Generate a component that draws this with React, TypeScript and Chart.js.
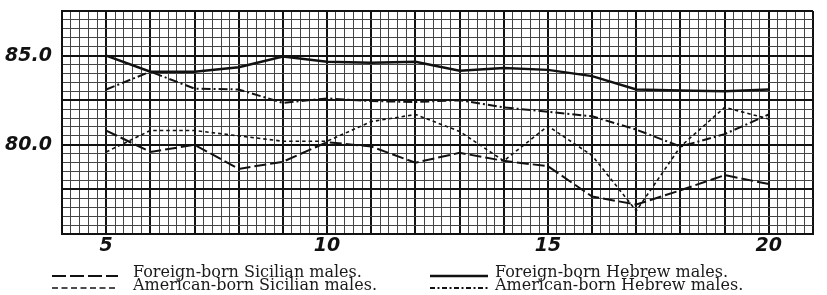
import React, { useEffect, useRef } from 'react';
import { Chart, registerables } from 'chart.js';

Chart.register(...registerables);

// Age in years
const ages = [5, 6, 7, 8, 9, 10, 11, 12, 13, 14, 15, 16, 17, 18, 19, 20];

// Cephalic index values
const foreignSicilian = [80.8, 79.6, 80.0, 78.65, 79.05, 80.15, 79.9, 79.0, 79.55, 79.1, 78.8, 77.1, 76.65, 77.45, 78.3, 77.8];
const americanSicilian = [79.6, 80.8, 80.8, 80.5, 80.2, 80.2, 81.3, 81.7, 80.75, 79.1, 81.05, 79.4, 76.3, 79.9, 82.1, 81.45];
const foreignHebrew = [85.0, 84.1, 84.1, 84.35, 84.95, 84.65, 84.6, 84.65, 84.15, 84.3, 84.2, 83.85, 83.1, 83.05, 83.0, 83.1];
const americanHebrew = [83.1, 84.1, 83.15, 83.1, 82.35, 82.6, 82.45, 82.4, 82.5, 82.1, 81.85, 81.6, 80.85, 79.9, 80.6, 81.7];

const seriesLabels = [
  'Foreign-born Sicilian males.',
  'American-born Sicilian males.',
  'Foreign-born Hebrew males.',
  'American-born Hebrew males.',
];

const xTickLabels = [5, 10, 15, 20];
const yTickLabels = [80, 85];

const near = (a: number, b: number) => Math.abs(a - b) < 1e-6;

const legendPlugin = {
  id: 'paperLegend',
  afterDraw(chart: any) {
    const ctx = chart.ctx as CanvasRenderingContext2D;
    const cols = [
      { sx: 52, ex: 118, tx: 133 },
      { sx: 430, ex: 488, tx: 495 },
    ];
    const rows = [
      { ly: 276, ty: 277 },
      { ly: 288, ty: 290 },
    ];
    chart.data.datasets.forEach((ds: any, i: number) => {
      const c = cols[i < 2 ? 0 : 1];
      const r = rows[i % 2];
      ctx.save();
      ctx.strokeStyle = ds.borderColor;
      ctx.lineWidth = ds.borderWidth;
      ctx.setLineDash(ds.legendDash || ds.borderDash || []);
      ctx.beginPath();
      ctx.moveTo(c.sx, r.ly);
      ctx.lineTo(c.ex, r.ly);
      ctx.stroke();
      ctx.setLineDash([]);
      ctx.fillStyle = '#1a1a1a';
      ctx.font = '16px "DejaVu Serif"';
      ctx.textBaseline = 'alphabetic';
      ctx.textAlign = 'left';
      ctx.fillText(ds.label, c.tx, r.ty);
      ctx.restore();
    });
  },
};

export default function App() {
  const ref = useRef<HTMLCanvasElement | null>(null);

  useEffect(() => {
    if (!ref.current) return;
    const mk = (vals: number[]) => ages.map((a, i) => ({ x: a, y: vals[i] }));
    const chart = new Chart(ref.current, {
      type: 'line',
      data: {
        datasets: [
          {
            label: seriesLabels[0],
            data: mk(foreignSicilian),
            borderColor: '#111',
            borderWidth: 2,
            borderDash: [12, 4],
            legendDash: [14, 4],
          } as any,
          {
            label: seriesLabels[1],
            data: mk(americanSicilian),
            borderColor: '#111',
            borderWidth: 1.6,
            borderDash: [3.5, 3],
            legendDash: [6, 3.5],
          } as any,
          {
            label: seriesLabels[2],
            data: mk(foreignHebrew),
            borderColor: '#111',
            borderWidth: 2.5,
            borderDash: [],
          } as any,
          {
            label: seriesLabels[3],
            data: mk(americanHebrew),
            borderColor: '#111',
            borderWidth: 2,
            borderDash: [9, 3, 2, 3],
            legendDash: [5, 2.5, 2, 2.5],
          } as any,
        ],
      },
      options: {
        animation: false,
        responsive: false,
        devicePixelRatio: 1,
        layout: { padding: { top: 11, right: 14, left: 0, bottom: 0 } },
        elements: {
          point: { radius: 0, hoverRadius: 0 },
          line: { tension: 0, borderCapStyle: 'butt', borderJoinStyle: 'miter' },
        },
        plugins: {
          legend: { display: false },
          tooltip: { enabled: false },
        },
        scales: {
          x: {
            type: 'linear',
            min: 4,
            max: 21,
            afterFit: (s: any) => {
              s.height = 61;
              s.paddingLeft = 0;
              s.paddingRight = 0;
            },
            border: { display: true, color: '#111', width: 2 },
            grid: {
              drawTicks: false,
              color: (c: any) => (near(c.tick.value, Math.round(c.tick.value)) ? '#111' : '#444'),
              lineWidth: (c: any) => (near(c.tick.value, Math.round(c.tick.value)) ? 2 : 1),
            },
            ticks: {
              stepSize: 0.2,
              autoSkip: false,
              maxRotation: 0,
              padding: 3,
              color: '#111',
              font: { family: '"DejaVu Sans"', size: 19, style: 'oblique', weight: 'bold', lineHeight: 1 },
              callback: (v: any) => {
                const n = Number(v);
                const hit = xTickLabels.find((t) => near(t, n));
                return hit !== undefined ? String(hit) : '';
              },
            },
          },
          y: {
            type: 'linear',
            min: 75,
            max: 87.5,
            afterFit: (s: any) => {
              s.width = 62;
              s.paddingTop = 0;
              s.paddingBottom = 0;
            },
            border: { display: true, color: '#111', width: 2 },
            grid: {
              drawTicks: false,
              color: (c: any) => (near(c.tick.value / 2.5, Math.round(c.tick.value / 2.5)) ? '#111' : '#444'),
              lineWidth: (c: any) => (near(c.tick.value / 2.5, Math.round(c.tick.value / 2.5)) ? 2 : 1),
            },
            ticks: {
              stepSize: 0.5,
              autoSkip: false,
              padding: 10,
              color: '#111',
              font: { family: '"DejaVu Sans"', size: 19, style: 'oblique', weight: 'bold', lineHeight: 1 },
              callback: (v: any) => {
                const n = Number(v);
                const hit = yTickLabels.find((t) => near(t, n));
                return hit !== undefined ? hit.toFixed(1) : '';
              },
            },
          },
        },
      },
      plugins: [legendPlugin],
    });
    return () => chart.destroy();
  }, []);

  return (
    <div style={{ position: 'fixed', left: 0, top: 0, width: 827, height: 295, background: '#fff' }}>
      <canvas ref={ref} width={827} height={295} style={{ display: 'block' }} />
    </div>
  );
}
